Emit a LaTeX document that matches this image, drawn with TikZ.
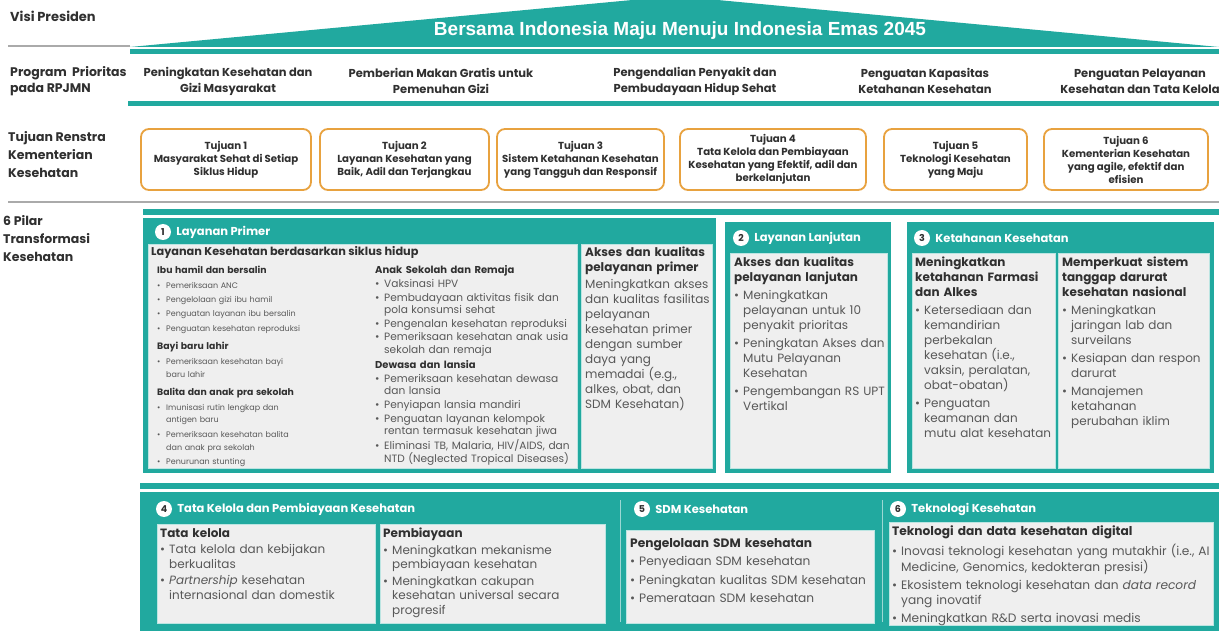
\documentclass[tikz,border=0pt]{standalone}
\usepackage{fontspec}
\setmainfont{Poppins}
\newfontfamily\titlefont{Liberation Sans}
\usetikzlibrary{positioning}

\definecolor{tealmain}{HTML}{21A99F}
\definecolor{orangebox}{HTML}{E8A23F}
\definecolor{labelgray}{HTML}{303030}
\definecolor{bodygray}{HTML}{585858}
\definecolor{boxfill}{HTML}{EFEFEF}
\definecolor{rulegray}{HTML}{AAAAAA}

% bullet line with hanging indent, sub heading
\newlength{\bulsep}
\setlength{\bulsep}{1.5pt}
\newcommand{\bul}[1]{\par\vspace{\bulsep}\hangindent=9pt\hangafter=1\noindent\makebox[9pt][l]{\textbullet}#1\par}
\newcommand{\subhd}[2][3pt]{\par\vspace{#1}\noindent{\bfseries\color{labelgray}#2}\par}

\begin{document}
\begin{tikzpicture}[x=1pt, y=-1pt,
  sidelabel/.style={anchor=north west, align=left, inner sep=0pt, text=labelgray, font=\bfseries\fontsize{12.5}{18}\selectfont},
  progtext/.style={align=center, inner sep=0pt, text=labelgray, font=\bfseries\fontsize{11.5}{16}\selectfont},
  tujuanbox/.style={draw=orangebox, line width=1.8pt, rounded corners=8pt, fill=white, minimum height=61pt, align=center, inner sep=0pt, text=labelgray, font=\bfseries\fontsize{10.2}{13}\selectfont},
  innerbox/.style={fill=boxfill, draw=white!70!tealmain, line width=0.8pt},
  numcirc/.style={circle, fill=white, inner sep=0pt, minimum size=16pt, text=labelgray, font=\bfseries\fontsize{9.5}{9.5}\selectfont},
  paneltitle/.style={inner sep=0pt, text=white, font=\bfseries\fontsize{11.5}{12}\selectfont},
  bodytext/.style={anchor=north west, inner sep=0pt, align=left, text=bodygray},
]
  \useasboundingbox (0,0) rectangle (1219,631);
  \fill[white] (0,0) rectangle (1219,631);

  % Visi Presiden
  \node[sidelabel, font=\bfseries\fontsize{13}{18}\selectfont] (lvisi) at (10,11) {Visi Presiden};
  \draw[rulegray, line width=1.2pt] (8,46) -- (130,46);
  \begin{scope}
    \clip (0,0) rectangle (1219,631);
    \fill[tealmain] (130,47) -- (675,-4) -- (1219,47) -- cycle;
  \end{scope}
  \fill[tealmain] (130,49) rectangle (1219,54);
  \node[text=white, font=\titlefont\bfseries\fontsize{19}{19}\selectfont] (visi) at (680,31) {Bersama Indonesia Maju Menuju Indonesia Emas 2045};

  % Program Prioritas
  \node[sidelabel, font=\bfseries\fontsize{12.5}{16}\selectfont] (lprog) at (10,66) {Program~~Prioritas\\pada RPJMN};
  \node[progtext] (prog1) at (228,81) {Peningkatan Kesehatan dan\\Gizi Masyarakat};
  \node[progtext] (prog2) at (441,81) {Pemberian Makan Gratis untuk\\Pemenuhan Gizi};
  \node[progtext] (prog3) at (695,81) {Pengendalian Penyakit dan\\Pembudayaan Hidup Sehat};
  \node[progtext] (prog4) at (925,81) {Penguatan Kapasitas\\Ketahanan Kesehatan};
  \node[progtext] (prog5) at (1140,81) {Penguatan Pelayanan\\Kesehatan dan Tata Kelola};
  \fill[tealmain] (128,101) rectangle (1219,106);

  % Tujuan Renstra
  \node[sidelabel] (ltuj) at (8,131) {Tujuan Renstra\\Kementerian\\Kesehatan};
  \node[tujuanbox, minimum width=170pt] (tuj1) at (226,159.5) {Tujuan 1\\Masyarakat Sehat di Setiap\\Siklus Hidup};
  \node[tujuanbox, minimum width=169pt] (tuj2) at (404.5,159.5) {Tujuan 2\\Layanan Kesehatan yang\\Baik, Adil dan Terjangkau};
  \node[tujuanbox, minimum width=167pt] (tuj3) at (580.5,159.5) {Tujuan 3\\Sistem Ketahanan Kesehatan\\yang Tangguh dan Responsif};
  \node[tujuanbox, minimum width=186pt] (tuj4) at (773,159.5) {Tujuan 4\\Tata Kelola dan Pembiayaan\\Kesehatan yang Efektif, adil dan\\berkelanjutan};
  \node[tujuanbox, minimum width=143pt] (tuj5) at (955.5,159.5) {Tujuan 5\\Teknologi Kesehatan\\yang Maju};
  \node[tujuanbox, minimum width=164pt] (tuj6) at (1126,159.5) {Tujuan 6\\Kementerian Kesehatan\\yang agile, efektif dan\\efisien};
  \draw[rulegray, line width=1.2pt] (8,202) -- (1219,202);

  % 6 Pilar
  \node[sidelabel] (lpilar) at (3,215) {6 Pilar\\Transformasi\\Kesehatan};
  \fill[tealmain] (143,209) rectangle (1219,215);

  % Pilar 1
  \fill[tealmain] (143,218) rectangle (716,473);
  \draw[innerbox] (148,244) rectangle (577,468);
  \draw[innerbox] (581,244) rectangle (712,468);
  \node[numcirc] (n1) at (163,232) {1};
  \node[paneltitle, right=5pt of n1] (t1) {Layanan Primer};
  \node[bodytext, font=\bfseries\fontsize{11.3}{13}\selectfont, text=labelgray] (p1head) at (151,246.5) {Layanan Kesehatan berdasarkan siklus hidup};
  \node[bodytext, text width=210pt, font=\fontsize{8}{12.8}\selectfont] (p1a) at (157,258) {%
    \subhd{\fontsize{9.3}{12.8}\selectfont Ibu hamil dan bersalin}
    \bul{Pemeriksaan ANC}
    \bul{Pengelolaan gizi ibu hamil}
    \bul{Penguatan layanan ibu bersalin}
    \bul{Penguatan kesehatan reproduksi}
    \subhd[6pt]{\fontsize{9.3}{12.8}\selectfont Bayi baru lahir}
    \bul{Pemeriksaan kesehatan bayi\newline baru lahir}
    \subhd[6pt]{\fontsize{9.3}{12.8}\selectfont Balita dan anak pra sekolah}
    \bul{Imunisasi rutin lengkap dan\newline antigen baru}
    \bul{Pemeriksaan kesehatan balita\newline dan anak pra sekolah}
    \bul{Penurunan stunting}};
  \node[bodytext, text width=200pt, font=\fontsize{10.6}{12.3}\selectfont] (p1b) at (375,258) {%
    \subhd{\fontsize{10}{12.3}\selectfont Anak Sekolah dan Remaja}
    \bul{Vaksinasi HPV}
    \bul{Pembudayaan aktivitas fisik dan\newline pola konsumsi sehat}
    \bul{Pengenalan kesehatan reproduksi}
    \bul{Pemeriksaan kesehatan anak usia\newline sekolah dan remaja}
    \subhd{\fontsize{10}{12.3}\selectfont Dewasa dan lansia}
    \bul{Pemeriksaan kesehatan dewasa\newline dan lansia}
    \bul{Penyiapan lansia mandiri}
    \bul{Penguatan layanan kelompok\newline rentan termasuk kesehatan jiwa}
    \bul{Eliminasi TB, Malaria, HIV/AIDS, dan\newline NTD (Neglected Tropical Diseases)}};
  \node[bodytext, text width=130pt, font=\fontsize{12}{15}\selectfont] (p1c) at (585,247) {%
    {\bfseries\color{labelgray}Akses dan kualitas\\pelayanan primer}\par\vspace{2pt}
    \noindent Meningkatkan akses\\dan kualitas fasilitas\\pelayanan\\kesehatan primer\\dengan sumber\\daya yang\\memadai (e.g.,\\alkes, obat, dan\\SDM Kesehatan)};

  % Pilar 2
  \fill[tealmain] (725,222) rectangle (891,473);
  \draw[innerbox] (730,253) rectangle (887,468);
  \node[numcirc] (n2) at (741,238) {2};
  \node[paneltitle, right=5pt of n2] (t2) {Layanan Lanjutan};
  \node[bodytext, text width=160pt, font=\fontsize{12}{15}\selectfont] (p2) at (734,257) {%
    \setlength{\bulsep}{3pt}%
    {\bfseries\color{labelgray}Akses dan kualitas\\pelayanan lanjutan}
    \bul{Meningkatkan\newline pelayanan untuk 10\newline penyakit prioritas}
    \bul{Peningkatan Akses dan\newline Mutu Pelayanan\newline Kesehatan}
    \bul{Pengembangan RS UPT\newline Vertikal}};

  % Pilar 3
  \fill[tealmain] (907,222) rectangle (1214,473);
  \draw[innerbox] (912,253) rectangle (1055,468);
  \draw[innerbox] (1058,253) rectangle (1209,468);
  \node[numcirc] (n3) at (922,238) {3};
  \node[paneltitle, right=5pt of n3] (t3) {Ketahanan Kesehatan};
  \node[bodytext, text width=150pt, font=\fontsize{12}{15}\selectfont] (p3a) at (915,257) {%
    \setlength{\bulsep}{3pt}%
    {\bfseries\color{labelgray}Meningkatkan\\ketahanan Farmasi\\dan Alkes}
    \bul{Ketersediaan dan\newline kemandirian\newline perbekalan\newline kesehatan (i.e.,\newline vaksin, peralatan,\newline obat-obatan)}
    \bul{Penguatan\newline keamanan dan\newline mutu alat kesehatan}};
  \node[bodytext, text width=155pt, font=\fontsize{12}{15}\selectfont] (p3b) at (1062,257) {%
    \setlength{\bulsep}{3pt}%
    {\bfseries\color{labelgray}Memperkuat sistem\\tanggap darurat\\kesehatan nasional}
    \bul{Meningkatkan\newline jaringan lab dan\newline surveilans}
    \bul{Kesiapan dan respon\newline darurat}
    \bul{Manajemen\newline ketahanan\newline perubahan iklim}};

  % Pilar 4, 5, 6
  \fill[tealmain] (140,483) rectangle (1219,489);
  \fill[tealmain] (140,492) rectangle (1219,631);
  \draw[white!55!tealmain, line width=1pt] (620,500) -- (620,622);
  \draw[white!55!tealmain, line width=1pt] (882,500) -- (882,622);
  \draw[innerbox] (157,524) rectangle (375,623);
  \draw[innerbox] (380,524) rectangle (605,623);
  \draw[innerbox] (626,530) rectangle (874,623);
  \draw[innerbox] (889,522) rectangle (1213,625);
  \node[numcirc] (n4) at (164,509) {4};
  \node[paneltitle, right=5pt of n4] (t4) {Tata Kelola dan Pembiayaan Kesehatan};
  \node[numcirc] (n5) at (642,509) {5};
  \node[paneltitle, right=5pt of n5] (t5) {SDM Kesehatan};
  \node[numcirc] (n6) at (898,509) {6};
  \node[paneltitle, right=5pt of n6] (t6) {Teknologi Kesehatan};
  \node[bodytext, text width=220pt, font=\fontsize{12}{14.5}\selectfont] (p4a) at (160,528) {%
    \setlength{\bulsep}{2pt}%
    {\bfseries\color{labelgray}Tata kelola}
    \bul{Tata kelola dan kebijakan\newline berkualitas}
    \bul{\textit{Partnership} kesehatan\newline internasional dan domestik}};
  \node[bodytext, text width=230pt, font=\fontsize{12}{14.5}\selectfont] (p4b) at (383,528) {%
    \setlength{\bulsep}{2pt}%
    {\bfseries\color{labelgray}Pembiayaan}
    \bul{Meningkatkan mekanisme\newline pembiayaan kesehatan}
    \bul{Meningkatkan cakupan\newline kesehatan universal secara\newline progresif}};
  \node[bodytext, text width=250pt, font=\fontsize{12.2}{15}\selectfont] (p5) at (630,538) {%
    \setlength{\bulsep}{3.5pt}%
    {\bfseries\color{labelgray}Pengelolaan SDM kesehatan}
    \bul{Penyediaan SDM kesehatan}
    \bul{Peningkatan kualitas SDM kesehatan}
    \bul{Pemerataan SDM kesehatan}};
  \node[bodytext, text width=330pt, font=\fontsize{12.2}{14.5}\selectfont] (p6) at (892,526) {%
    \setlength{\bulsep}{4pt}%
    {\bfseries\color{labelgray}Teknologi dan data kesehatan digital}
    \bul{Inovasi teknologi kesehatan yang mutakhir (i.e., AI\newline Medicine, Genomics, kedokteran presisi)}
    \bul{Ekosistem teknologi kesehatan dan \textit{data record}\newline yang inovatif}
    \bul{Meningkatkan R\&D serta inovasi medis}};
\end{tikzpicture}
\end{document}
